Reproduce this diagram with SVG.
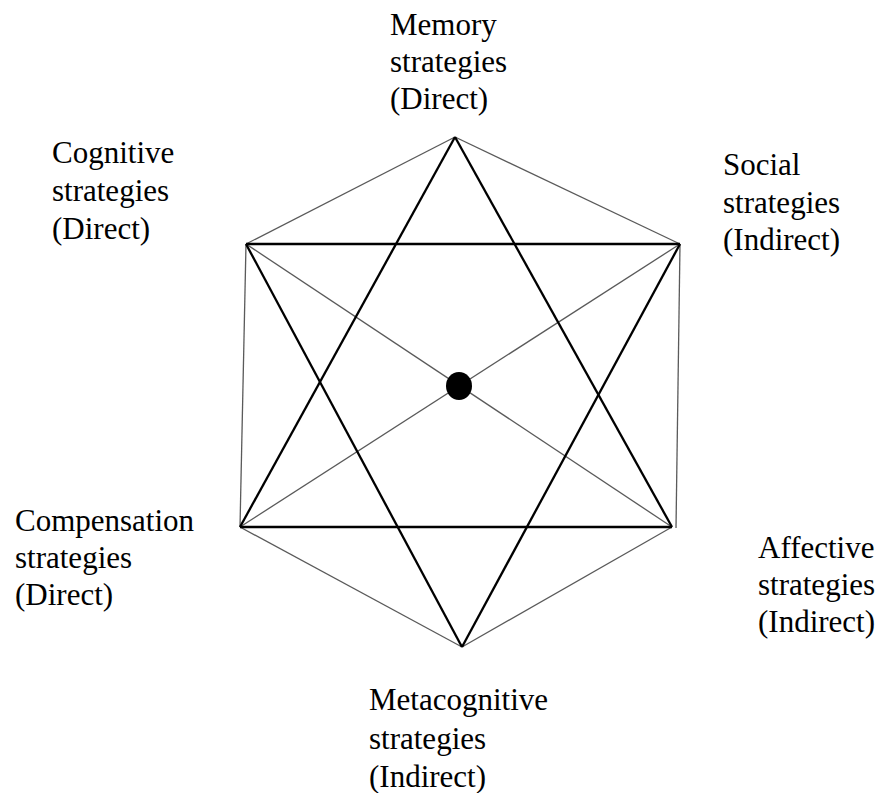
<svg xmlns="http://www.w3.org/2000/svg" width="879" height="793" viewBox="0 0 879 793">
<style>
.lbl{font-family:'Liberation Serif','Times New Roman','DejaVu Serif',serif;font-size:31px;fill:#000}
.thin{stroke:#5a5a5a;stroke-width:1.3;fill:none}
.thick{stroke:#000;stroke-width:2.3;fill:none}
</style>
<rect width="879" height="793" fill="#fff"/>
<g id="connectors">
<line class="thin" x1="455" y1="137" x2="246" y2="244"/>
<line class="thin" x1="455" y1="137" x2="680" y2="244"/>
<line class="thin" x1="246" y1="244" x2="240" y2="527"/>
<line class="thin" x1="680" y1="244" x2="676" y2="528"/>
<line class="thin" x1="240" y1="527" x2="462" y2="647"/>
<line class="thin" x1="672" y1="527" x2="462" y2="647"/>
<line class="thin" x1="246" y1="244" x2="672" y2="527"/>
<line class="thin" x1="680" y1="244" x2="240" y2="527"/>
<line class="thick" x1="246" y1="244" x2="680" y2="244"/>
<line class="thick" x1="240" y1="527" x2="672" y2="527"/>
<line class="thick" x1="455" y1="137" x2="240" y2="527"/>
<line class="thick" x1="455" y1="137" x2="672" y2="527"/>
<line class="thick" x1="462" y1="647" x2="246" y2="244"/>
<line class="thick" x1="462" y1="647" x2="680" y2="244"/>
</g>
<g id="center"><ellipse cx="459" cy="386" rx="13" ry="14" fill="#000"/></g>
<g id="memory"><text class="lbl" font-family="Liberation Serif, serif"><tspan x="390" y="35">Memory</tspan><tspan x="390" y="72">strategies</tspan><tspan x="390" y="109">(Direct)</tspan></text></g>
<g id="cognitive"><text class="lbl" font-family="Liberation Serif, serif"><tspan x="52" y="163">Cognitive</tspan><tspan x="52" y="201">strategies</tspan><tspan x="52" y="239">(Direct)</tspan></text></g>
<g id="social"><text class="lbl" font-family="Liberation Serif, serif"><tspan x="723" y="175">Social</tspan><tspan x="723" y="213">strategies</tspan><tspan x="723" y="250">(Indirect)</tspan></text></g>
<g id="compensation"><text class="lbl" font-family="Liberation Serif, serif"><tspan x="15" y="531">Compensation</tspan><tspan x="15" y="568">strategies</tspan><tspan x="15" y="605">(Direct)</tspan></text></g>
<g id="affective"><text class="lbl" font-family="Liberation Serif, serif"><tspan x="758" y="558">Affective</tspan><tspan x="758" y="595">strategies</tspan><tspan x="758" y="632">(Indirect)</tspan></text></g>
<g id="metacognitive"><text class="lbl" font-family="Liberation Serif, serif"><tspan x="369" y="710">Metacognitive</tspan><tspan x="369" y="749">strategies</tspan><tspan x="369" y="787">(Indirect)</tspan></text></g>
</svg>
